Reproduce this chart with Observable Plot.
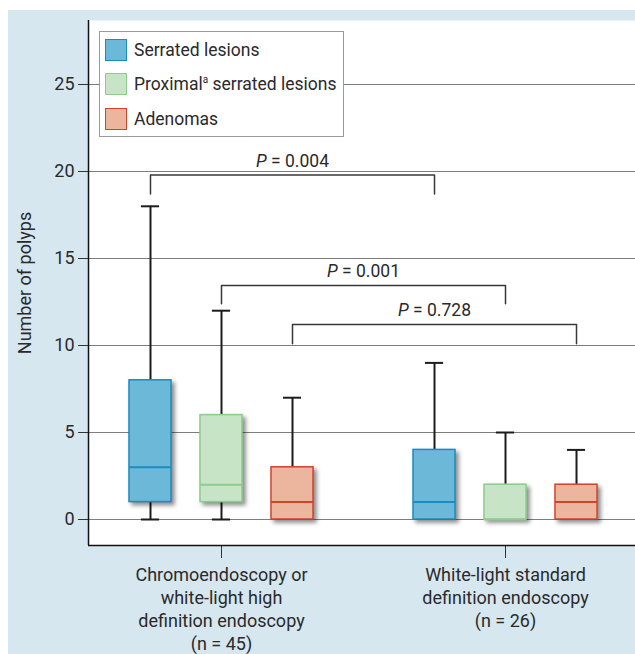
<!DOCTYPE html>
<html><head><meta charset="utf-8">
<script src="https://cdn.jsdelivr.net/npm/d3@7"></script>
<script src="https://cdn.jsdelivr.net/npm/@observablehq/plot@0.6"></script>
<style>
body{margin:0;background:#fff;font-family:Roboto,sans-serif;}
#wrap{position:relative;width:635px;height:654px;overflow:hidden;}
#bg{position:absolute;left:8px;top:10px;right:0;bottom:0;background:#d6e7f0;}
#chart{position:absolute;left:0;top:0;}
.boxes{filter:drop-shadow(3px 3px 2px rgba(0,0,0,0.45));}
#legend{position:absolute;left:99px;top:31px;width:243px;height:104px;background:#fff;border:1px solid #9a9a9a;}
.row{position:absolute;left:5px;height:23px;display:flex;align-items:center;}
.sw{width:20px;height:20px;margin-right:7px;box-sizing:content-box;}
.lt{font-size:17.5px;color:#2a2a2a;white-space:nowrap;}
.lt sup{font-size:10px;vertical-align:7px;line-height:0;}
</style></head>
<body><div id="wrap"><div id="bg"></div><div id="chart"></div><div id="legend"></div></div>
<script>
// ---- data ----
const groups = ["Chromoendoscopy or\nwhite-light high\ndefinition endoscopy\n(n = 45)", "White-light standard\ndefinition endoscopy\n(n = 26)"];
const series = ["Serrated lesions", "Proximal<sup>a</sup> serrated lesions", "Adenomas"];
const fills = ["#6cb8d9", "#c8e4c7", "#ebb59e"];
const strokes = ["#1a8cc0", "#8ccd8b", "#d2432b"];
// per group, per series (Serrated, Proximal serrated, Adenomas)
const minVals = [[0, 0, 0], [0, 0, 0]];
const q1Vals  = [[1, 1, 0], [0, 0, 0]];
const medVals = [[3, 2, 1], [1, 0, 1]];
const q3Vals  = [[8, 6, 3], [4, 2, 2]];
const maxVals = [[18, 12, 7], [9, 5, 4]];
// comparisons (same series, group 1 vs group 2)
const pValues = ["0.004", "0.001", "0.728"];
const bracketSeries = [0, 1, 2];
const bracketTop = [19.8, 13.45, 11.2];
const bracketLeg = [18.7, 12.4, 10.1];
const yTicks = [0, 5, 10, 15, 20, 25];

const boxHalf = 0.074, capHalf = 0.032, seriesStep = 0.25;
const pos = (g, s) => g + (s - 1) * seriesStep;

const rows = [];
groups.forEach((g, gi) => series.forEach((s, si) => rows.push({
  gi, si, pos: pos(gi, si), min: minVals[gi][si], q1: q1Vals[gi][si], med: medVals[gi][si],
  q3: q3Vals[gi][si], max: maxVals[gi][si], fill: fills[si], stroke: strokes[si]
})));
const lowCaps = rows.filter(d => d.min < d.q1);

const brackets = pValues.map((p, i) => ({
  id: i, p, x1: pos(0, bracketSeries[i]), x2: pos(1, bracketSeries[i]), top: bracketTop[i], leg: bracketLeg[i]
}));
const bracketPts = brackets.flatMap(b => [
  {id: b.id, x: b.x1, y: b.leg}, {id: b.id, x: b.x1, y: b.top},
  {id: b.id, x: b.x2, y: b.top}, {id: b.id, x: b.x2, y: b.leg}
]);

const xDomain = [-0.4683, 1.4577];
const yDomain = [-1.494, 28.678];

const chart = Plot.plot({
  width: 635, height: 654,
  marginTop: 20, marginBottom: 109, marginLeft: 88, marginRight: 0,
  style: {fontFamily: "Roboto, sans-serif", fontSize: "17.5px", color: "#2a2a2a", background: "transparent", overflow: "visible"},
  x: {domain: xDomain},
  y: {domain: yDomain},
  marks: [
    Plot.frame({fill: "white", stroke: "none"}),
    Plot.gridY(yTicks, {stroke: "#7d7d7d", strokeOpacity: 1, strokeWidth: 1}),
    Plot.ruleX(rows, {x: "pos", y1: "min", y2: "max", stroke: "#1c1c1c", strokeWidth: 2}),
    Plot.ruleY(rows, {y: "max", x1: d => d.pos - capHalf, x2: d => d.pos + capHalf, stroke: "#1c1c1c", strokeWidth: 2}),
    Plot.ruleY(lowCaps, {y: "min", x1: d => d.pos - capHalf, x2: d => d.pos + capHalf, stroke: "#1c1c1c", strokeWidth: 2}),
    Plot.rect(rows, {x1: d => d.pos - boxHalf, x2: d => d.pos + boxHalf, y1: "q1", y2: "q3", fill: "fill", stroke: "stroke", strokeWidth: 1.5, className: "boxes"}),
    Plot.ruleY(rows, {y: "med", x1: d => d.pos - boxHalf, x2: d => d.pos + boxHalf, stroke: "stroke", strokeWidth: 2}),
    Plot.line(bracketPts, {x: "x", y: "y", z: "id", stroke: "#383838", strokeWidth: 1.5}),
    Plot.text(brackets, {x: d => (d.x1 + d.x2) / 2, y: "top", text: d => "P = " + d.p, dy: -14, fontSize: 17.5, fill: "#2a2a2a", className: "plabel"}),
    Plot.axisY({ticks: yTicks, tickSize: 10, tickPadding: 4, fontSize: 18, stroke: "#333", label: "Number of polyps", labelArrow: "none", labelAnchor: "center", labelOffset: 70, className: "yax"}),
    Plot.axisX({ticks: [0, 1], tickFormat: i => groups[i], tickSize: 13, tickPadding: 6, fontSize: 18, lineHeight: 1.28, stroke: "#333", label: null}),
    Plot.ruleX([xDomain[0]], {stroke: "#111", strokeWidth: 1.5}),
    Plot.ruleY([yDomain[0]], {stroke: "#111", strokeWidth: 1.5})
  ]
});
document.getElementById("chart").appendChild(chart);

// strip any axis-label arrow
chart.querySelectorAll("text").forEach(t => {
  if (/[→↑←↓]/.test(t.textContent)) t.textContent = t.textContent.replace(/\s*[→↑←↓]\s*/g, "").trim();
});

// italic P in comparison labels
chart.querySelectorAll(".plabel text").forEach(t => {
  const s = t.textContent;
  t.textContent = "";
  const ns = "http://www.w3.org/2000/svg";
  const it = document.createElementNS(ns, "tspan");
  it.setAttribute("font-style", "italic");
  it.textContent = s.slice(0, 1);
  t.appendChild(it);
  t.appendChild(document.createTextNode(s.slice(1)));
});

// legend
const leg = document.getElementById("legend");
series.forEach((s, i) => {
  const r = document.createElement("div");
  r.className = "row";
  r.style.top = (6 + i * 34.5) + "px";
  r.innerHTML = `<div class="sw" style="background:${fills[i]};border:1.5px solid ${strokes[i]}"></div><span class="lt">${s}</span>`;
  leg.appendChild(r);
});
</script></body></html>
